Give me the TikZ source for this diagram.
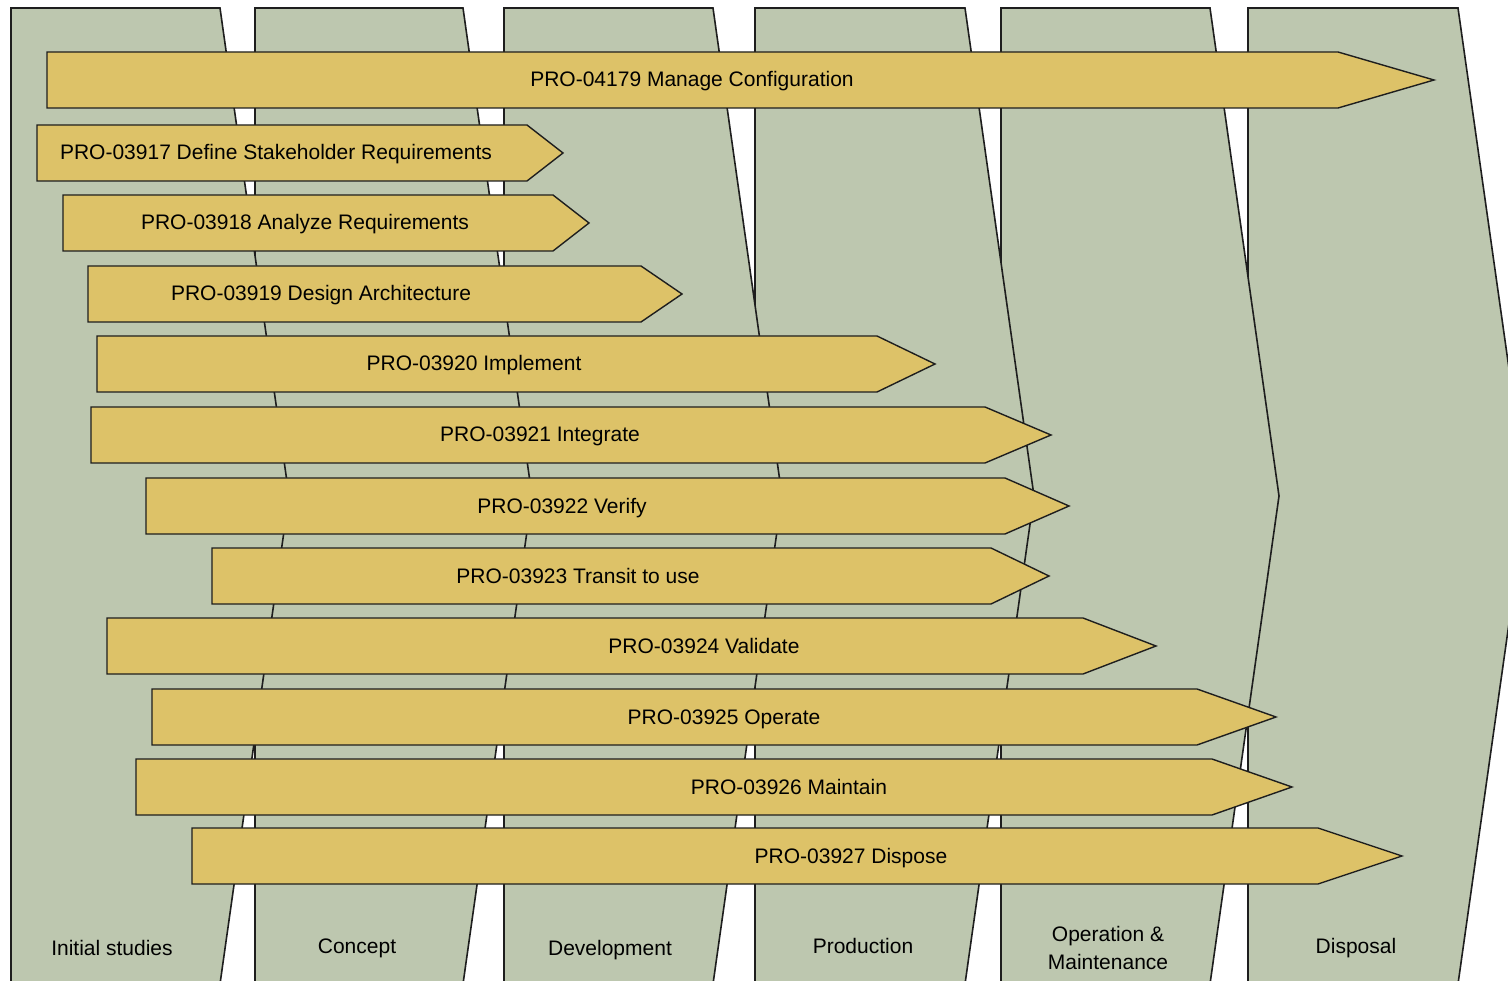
\documentclass[tikz,border=0pt]{standalone}
\usepackage{fontspec}
\setmainfont{Liberation Sans}
\usetikzlibrary{calc}
\definecolor{phasegreen}{RGB}{189,199,175}
\definecolor{procgold}{RGB}{221,194,104}
\definecolor{edgegray}{RGB}{30,30,30}
\tikzset{
  phase/.style={draw=edgegray, fill=phasegreen, line width=1.6pt},
  proc/.style={draw=edgegray, fill=procgold, line width=1.4pt},
  proclabel/.style={font=\fontsize{21}{25}\selectfont, text=black, inner sep=0pt, anchor=base},
  phaselabel/.style={font=\fontsize{21}{28}\selectfont, align=center, inner sep=0pt, anchor=base}
}

\begin{document}
\begin{tikzpicture}[x=1pt, y=-1pt]
  \fill[white] (0,0) rectangle (1508,981);
  \useasboundingbox (0,0) rectangle (1508,981);
  \clip (0,0) rectangle (1508,981);

  % life cycle phases, drawn right to left
  \foreach \xl/\xr/\lx/\ly/\nm/\txt in {
      1248/1458/1356/953/disposal/{Disposal},
      1001/1210/1108/969/operation/{Operation \&\\Maintenance},
      755/965/863/953/production/{Production},
      504/713/610/955/development/{Development},
      255/463/357/953/concept/{Concept},
      11/220/112/955/initial/{Initial studies}}{
    \draw[phase] (\xl,8) -- (\xr,8) -- ({\xr+69},496) -- (\xr,984) -- (\xl,984) -- cycle;
    \node[phaselabel] (\nm) at (\lx,\ly) {\txt};
  }

  % processes
  \foreach \l/\t/\b/\p/\tx/\nm/\txt in {
      47/52/1338/1434/692/p04179/{PRO-04179 Manage Configuration},
      37/125/527/563/276/p03917/{PRO-03917 Define Stakeholder Requirements},
      63/195/553/589/305/p03918/{PRO-03918 Analyze Requirements},
      88/266/641/682/321/p03919/{PRO-03919 Design Architecture},
      97/336/877/935/474/p03920/{PRO-03920 Implement},
      91/407/985/1051/540/p03921/{PRO-03921 Integrate},
      146/478/1005/1069/562/p03922/{PRO-03922 Verify},
      212/548/991/1049/578/p03923/{PRO-03923 Transit to use},
      107/618/1083/1156/704/p03924/{PRO-03924 Validate},
      152/689/1197/1276/724/p03925/{PRO-03925 Operate},
      136/759/1212/1292/789/p03926/{PRO-03926 Maintain},
      192/828/1318/1402/851/p03927/{PRO-03927 Dispose}}{
    \draw[proc] (\l,\t) -- (\b,\t) -- (\p,{\t+28}) -- (\b,{\t+56}) -- (\l,{\t+56}) -- cycle;
    \node[proclabel] (\nm) at (\tx,{\t+35}) {\txt};
  }
\end{tikzpicture}
\end{document}
